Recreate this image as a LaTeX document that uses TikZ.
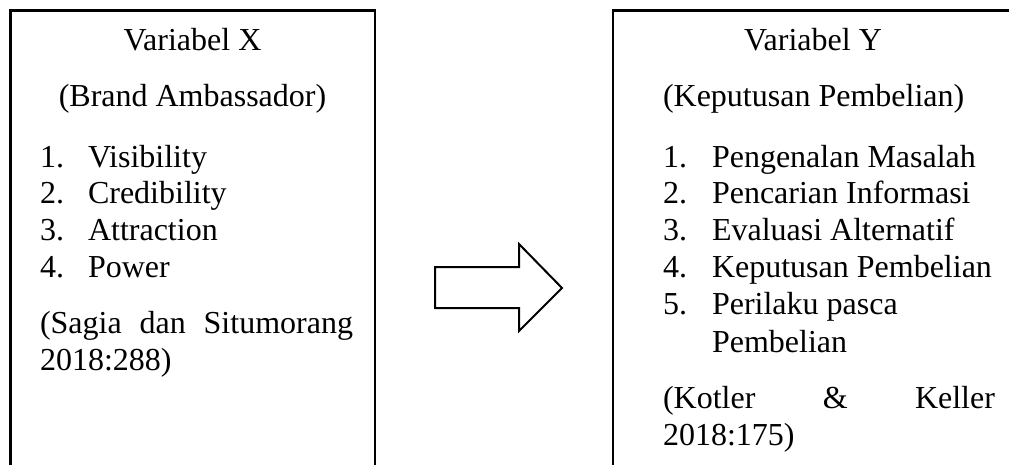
\documentclass[tikz,border=0pt]{standalone}
\usepackage{fontspec}
\setmainfont{Liberation Serif}
\begin{document}
\begin{tikzpicture}[x=1pt,y=-1pt,
  txt/.style={inner sep=0pt,outer sep=0pt,anchor=base west,font=\fontsize{32}{36}\selectfont},
  ctxt/.style={txt,anchor=base},
  frame/.style={line width=2.5pt},
  bigarrow/.style={line width=2pt,line join=miter}]
\useasboundingbox (0,0) rectangle (1009,464);
\clip (0,0) rectangle (1009,464);
% boxes
\draw[frame] (10.5,490) -- (10.5,10.5) -- (375,10.5) -- (375,490);
\draw[frame] (613,490) -- (613,10.5) -- (1030,10.5);
% left box text
\node[ctxt] (xt) at (192.5,50) {Variabel X};
\node[ctxt] (xs) at (192.5,106) {(Brand Ambassador)};
\node[txt] (xn1) at (40,167) {1.};
\node[txt] (xi1) at (88,167) {Visibility};
\node[txt] (xn2) at (40,203) {2.};
\node[txt] (xi2) at (88,203) {Credibility};
\node[txt] (xn3) at (40,240) {3.};
\node[txt] (xi3) at (88,240) {Attraction};
\node[txt] (xn4) at (40,277) {4.};
\node[txt] (xi4) at (88,277) {Power};
\node[txt] (xc1) at (40,333) {\makebox[313pt][s]{(Sagia dan Situmorang}};
\node[txt] (xc2) at (40,370) {2018:288)};
% right box text
\node[ctxt] (yt) at (813,50) {Variabel Y};
\node[txt] (ys) at (663,106) {(Keputusan Pembelian)};
\node[txt] (yn1) at (663,167) {1.};
\node[txt] (yi1) at (712,167) {Pengenalan Masalah};
\node[txt] (yn2) at (663,203) {2.};
\node[txt] (yi2) at (712,203) {Pencarian Informasi};
\node[txt] (yn3) at (663,240) {3.};
\node[txt] (yi3) at (712,240) {Evaluasi Alternatif};
\node[txt] (yn4) at (663,277) {4.};
\node[txt] (yi4) at (712,277) {Keputusan Pembelian};
\node[txt] (yn5) at (663,314) {5.};
\node[txt] (yi5) at (712,314) {Perilaku pasca};
\node[txt] (yi5b) at (712,352) {Pembelian};
\node[txt] (yc1) at (663,408) {\makebox[332pt][s]{(Kotler \& Keller}};
\node[txt] (yc2) at (663,445) {2018:175)};
% block arrow
\draw[bigarrow] (435,267) -- (519,267) -- (519,244) -- (562,288) -- (519,331) -- (519,308) -- (435,308) -- cycle;
\end{tikzpicture}
\end{document}
